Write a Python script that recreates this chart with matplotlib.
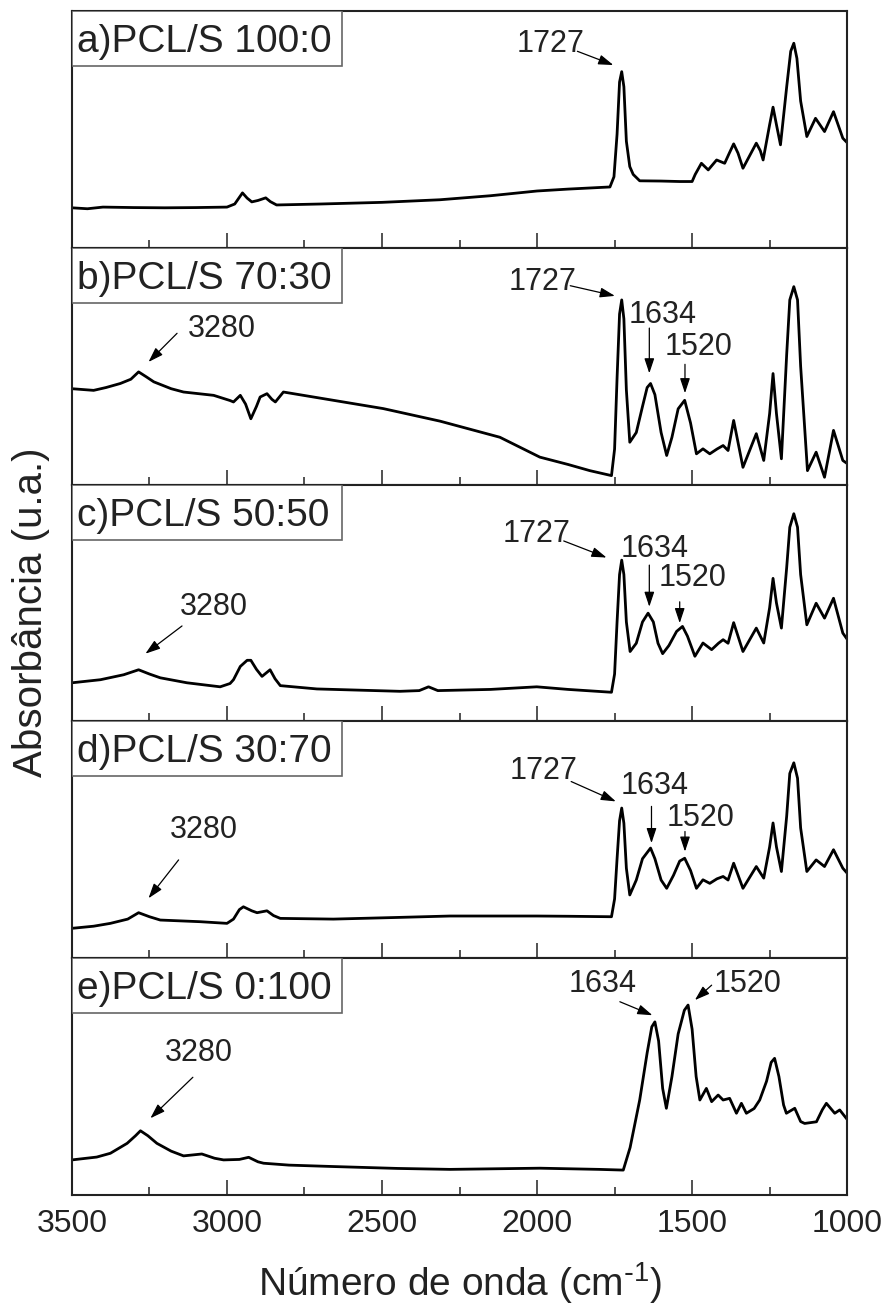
import matplotlib
matplotlib.use("Agg")
import matplotlib.pyplot as plt
from matplotlib.patches import Rectangle
from matplotlib.ticker import MultipleLocator

plt.rcParams['font.family'] = ['Liberation Sans', 'DejaVu Sans']
plt.rcParams['mathtext.default'] = 'regular'

# ---------------- data (wavenumber, absorbance in arbitrary units) ----------------
wn_a = [3500, 3450, 3400, 3300, 3200, 3100, 3000, 2975, 2950, 2935, 2920, 2900, 2875, 2860, 2840,
        2700, 2500, 2313, 2150, 2000, 1900, 1765, 1752, 1742, 1734, 1727, 1720, 1712, 1701, 1690,
        1669, 1600, 1540, 1500, 1490, 1470, 1448, 1421, 1395, 1380, 1366, 1352, 1336, 1310, 1293,
        1280, 1271, 1250, 1239, 1228, 1215, 1195, 1182, 1172, 1162, 1150, 1130, 1102, 1073, 1044,
        1014, 1000]
abs_a = [0.169, 0.165, 0.172, 0.170, 0.169, 0.170, 0.172, 0.185, 0.232, 0.210, 0.194, 0.200, 0.211, 0.195, 0.181,
         0.185, 0.192, 0.203, 0.220, 0.240, 0.248, 0.257, 0.30, 0.48, 0.70, 0.744, 0.68, 0.45, 0.343, 0.31,
         0.283, 0.282, 0.280, 0.280, 0.31, 0.357, 0.329, 0.371, 0.357, 0.40, 0.439, 0.40, 0.336, 0.40, 0.442,
         0.41, 0.371, 0.52, 0.594, 0.52, 0.435, 0.68, 0.83, 0.864, 0.80, 0.62, 0.470, 0.547, 0.491, 0.575,
         0.463, 0.444]

wn_b = [3500, 3430, 3390, 3344, 3310, 3285, 3260, 3236, 3180, 3140, 3043, 2990, 2979, 2957, 2940,
        2923, 2905, 2893, 2871, 2855, 2844, 2818, 2657, 2496, 2313, 2120, 1991, 1900, 1830, 1760,
        1750, 1742, 1734, 1727, 1720, 1712, 1701, 1680, 1660, 1645, 1634, 1620, 1600, 1582, 1565,
        1545, 1524, 1505, 1486, 1465, 1443, 1420, 1400, 1384, 1366, 1336, 1293, 1269, 1250, 1239,
        1228, 1212, 1195, 1185, 1172, 1160, 1150, 1128, 1100, 1073, 1044, 1014, 1000]
abs_b = [0.405, 0.398, 0.410, 0.427, 0.445, 0.476, 0.455, 0.434, 0.405, 0.391, 0.377, 0.355, 0.349, 0.377, 0.34,
         0.278, 0.33, 0.370, 0.384, 0.36, 0.349, 0.391, 0.356, 0.321, 0.268, 0.200, 0.116, 0.085, 0.059, 0.038,
         0.15, 0.45, 0.72, 0.780, 0.70, 0.40, 0.179, 0.22, 0.33, 0.41, 0.427, 0.38, 0.22, 0.123, 0.20,
         0.32, 0.356, 0.26, 0.130, 0.151, 0.130, 0.15, 0.165, 0.144, 0.271, 0.073, 0.215, 0.102, 0.30, 0.469,
         0.30, 0.109, 0.55, 0.78, 0.836, 0.78, 0.50, 0.059, 0.137, 0.031, 0.229, 0.102, 0.089]

wn_c = [3500, 3408, 3333, 3285, 3250, 3215, 3129, 3022, 2990, 2979, 2957, 2935, 2923, 2905, 2887,
        2861, 2845, 2828, 2710, 2442, 2380, 2350, 2320, 2150, 2001, 1900, 1760, 1750, 1742, 1734,
        1727, 1720, 1712, 1700, 1680, 1660, 1642, 1625, 1610, 1595, 1575, 1550, 1531, 1515, 1491,
        1465, 1437, 1415, 1400, 1384, 1366, 1336, 1293, 1269, 1250, 1239, 1228, 1212, 1195, 1185,
        1172, 1160, 1150, 1130, 1100, 1073, 1044, 1014, 1000]
abs_c = [0.163, 0.176, 0.197, 0.218, 0.200, 0.184, 0.163, 0.146, 0.160, 0.176, 0.232, 0.258, 0.258, 0.220, 0.190,
         0.218, 0.180, 0.151, 0.137, 0.127, 0.130, 0.146, 0.130, 0.135, 0.146, 0.135, 0.123, 0.20, 0.42, 0.62,
         0.681, 0.62, 0.42, 0.295, 0.33, 0.42, 0.457, 0.42, 0.33, 0.286, 0.32, 0.38, 0.401, 0.36, 0.275,
         0.331, 0.303, 0.33, 0.345, 0.33, 0.417, 0.295, 0.394, 0.331, 0.48, 0.604, 0.50, 0.394, 0.65, 0.82,
         0.877, 0.82, 0.62, 0.408, 0.499, 0.436, 0.520, 0.373, 0.347]

wn_d = [3500, 3430, 3376, 3320, 3285, 3250, 3215, 3086, 3000, 2979, 2960, 2947, 2920, 2903, 2871,
        2850, 2828, 2657, 2450, 2281, 2001, 1900, 1760, 1750, 1742, 1734, 1727, 1720, 1712, 1701,
        1680, 1660, 1634, 1620, 1600, 1582, 1560, 1540, 1524, 1505, 1486, 1465, 1443, 1420, 1400,
        1384, 1366, 1336, 1293, 1269, 1250, 1239, 1228, 1212, 1195, 1185, 1172, 1160, 1150, 1130,
        1100, 1073, 1044, 1014, 1000]
abs_d = [0.126, 0.135, 0.147, 0.165, 0.192, 0.175, 0.161, 0.154, 0.147, 0.165, 0.205, 0.217, 0.200, 0.192, 0.200,
         0.180, 0.168, 0.165, 0.172, 0.178, 0.178, 0.177, 0.175, 0.25, 0.42, 0.58, 0.634, 0.57, 0.38, 0.267,
         0.33, 0.42, 0.465, 0.42, 0.33, 0.295, 0.35, 0.41, 0.422, 0.37, 0.295, 0.331, 0.316, 0.335, 0.345,
         0.33, 0.401, 0.295, 0.387, 0.338, 0.47, 0.571, 0.47, 0.366, 0.60, 0.78, 0.825, 0.76, 0.55, 0.366,
         0.415, 0.387, 0.458, 0.38, 0.359]

wn_e = [3500, 3420, 3376, 3322, 3295, 3279, 3255, 3226, 3180, 3140, 3081, 3040, 3011, 2960, 2930,
        2900, 2882, 2800, 2657, 2450, 2281, 1991, 1800, 1722, 1700, 1669, 1645, 1630, 1620, 1608,
        1595, 1583, 1565, 1545, 1525, 1513, 1500, 1487, 1475, 1454, 1437, 1416, 1400, 1379, 1357,
        1341, 1325, 1300, 1282, 1260, 1245, 1234, 1220, 1205, 1196, 1169, 1150, 1137, 1099, 1080,
        1067, 1040, 1024, 1003]
abs_e = [0.148, 0.160, 0.176, 0.218, 0.250, 0.271, 0.250, 0.218, 0.185, 0.165, 0.173, 0.155, 0.148, 0.150, 0.159,
         0.140, 0.134, 0.126, 0.120, 0.112, 0.108, 0.113, 0.108, 0.105, 0.20, 0.401, 0.60, 0.71, 0.731, 0.65,
         0.45, 0.366, 0.50, 0.68, 0.78, 0.802, 0.70, 0.50, 0.401, 0.450, 0.394, 0.422, 0.401, 0.408, 0.345,
         0.387, 0.345, 0.365, 0.401, 0.48, 0.56, 0.577, 0.50, 0.38, 0.345, 0.366, 0.31, 0.302, 0.309, 0.36,
         0.387, 0.345, 0.359, 0.324]

panel_labels = ['a)PCL/S 100:0', 'b)PCL/S 70:30', 'c)PCL/S 50:50', 'd)PCL/S 30:70', 'e)PCL/S 0:100']

# annotations per panel: (text, text_x, text_y, arrow_from, arrow_to)
notes = [
    [('1727', 1958, 0.861, (1870, 0.83), (1754, 0.772))],
    [('1727', 1981, 0.856, (1893, 0.84), (1749, 0.797)),
     ('1634', 1596, 0.716, (1638, 0.661), (1638, 0.470)),
     ('1520', 1480, 0.583, (1523, 0.508), (1523, 0.386)),
     ('3280', 3015, 0.657, (3161, 0.639), (3253, 0.518))],
    [('1727', 2002, 0.790, (1914, 0.762), (1776, 0.692)),
     ('1634', 1620, 0.727, (1638, 0.660), (1638, 0.484)),
     ('1520', 1497, 0.607, (1540, 0.505), (1540, 0.415)),
     ('3280', 3041, 0.485, (3145, 0.403), (3263, 0.286))],
    [('1727', 1978, 0.789, (1890, 0.746), (1746, 0.662)),
     ('1634', 1620, 0.726, (1631, 0.641), (1631, 0.486)),
     ('1520', 1472, 0.593, (1523, 0.535), (1523, 0.450)),
     ('3280', 3076, 0.542, (3156, 0.415), (3253, 0.253))],
    [('1634', 1789, 0.893, (1733, 0.816), (1628, 0.759)),
     ('1520', 1320, 0.893, (1437, 0.886), (1491, 0.823)),
     ('3280', 3092, 0.601, (3110, 0.497), (3247, 0.324))],
]

spectra = [(wn_a, abs_a), (wn_b, abs_b), (wn_c, abs_c), (wn_d, abs_d), (wn_e, abs_e)]

fig = plt.figure(figsize=(8.88, 13.14), dpi=100)
axes = fig.subplots(5, 1, sharex=True)
fig.subplots_adjust(left=0.081, right=0.954, top=0.9916, bottom=0.0906, hspace=0)

for i, ax in enumerate(axes):
    wn, ab = spectra[i]
    ax.plot(wn, ab, color='black', lw=2.0, solid_joinstyle='round')
    ax.set_xlim(3500, 1000)
    ax.set_ylim(0, 1)
    ax.set_yticks([])
    ax.xaxis.set_major_locator(MultipleLocator(500))
    ax.xaxis.set_minor_locator(MultipleLocator(250))
    ax.tick_params(axis='x', which='major', direction='in', length=11, width=1.1,
                   labelsize=23, pad=10, colors='#222222')
    ax.tick_params(axis='x', which='minor', direction='in', length=6, width=1.1, colors='#222222')
    for sp in ax.spines.values():
        sp.set_linewidth(1.5)
        sp.set_color('#222222')

    # label box in the upper left corner
    ax.add_patch(Rectangle((0, 0.768), 0.349, 0.232, transform=ax.transAxes,
                           facecolor='white', edgecolor='#666666', lw=1.2, zorder=3))
    ax.text(0.0065, 0.827, panel_labels[i], transform=ax.transAxes, fontsize=28,
            ha='left', va='baseline', color='#222222', zorder=4)

    for txt, tx, ty, a0, a1 in notes[i]:
        ax.text(tx, ty, txt, fontsize=22, ha='center', va='center', color='#222222')
        ax.annotate('', xy=a1, xytext=a0,
                    arrowprops=dict(arrowstyle='-|>,head_length=0.9,head_width=0.3',
                                    color='black', lw=0.9, mutation_scale=10,
                                    shrinkA=0, shrinkB=0))

fig.text(0.035, 0.534, 'Absorbância (u.a.)', rotation=90, fontsize=29,
         ha='center', va='center', color='#222222')
fig.text(0.518, 0.0236, r'Número de onda (cm$^{\text{-}1}$)', fontsize=28,
         ha='center', va='center', color='#222222')

plt.savefig('out.png', dpi=100)
